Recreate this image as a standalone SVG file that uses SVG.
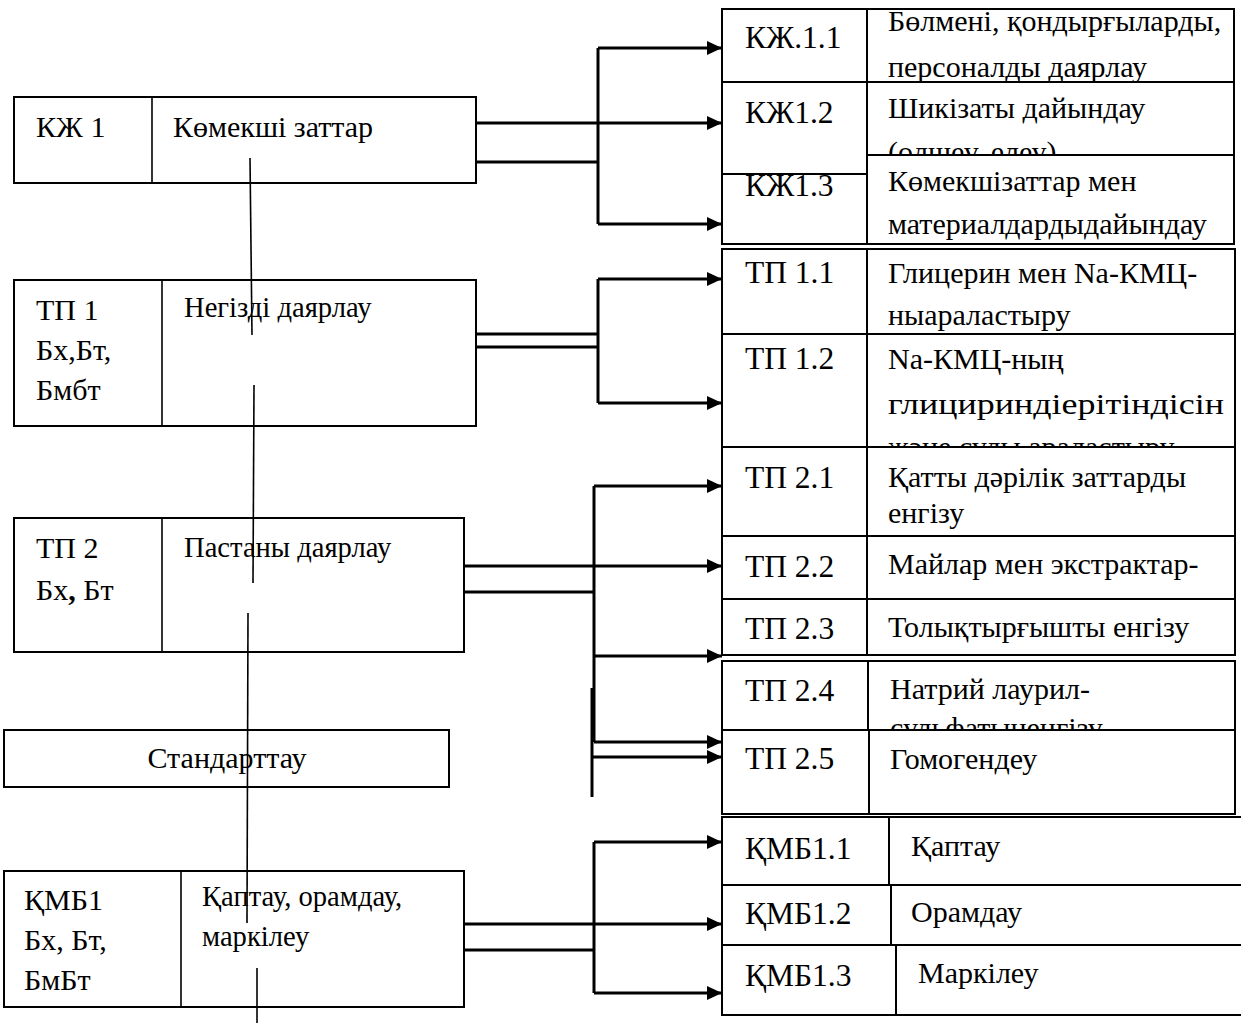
<svg xmlns="http://www.w3.org/2000/svg" width="1241" height="1023" viewBox="0 0 1241 1023">
<style>
  text { font-family: "Liberation Serif", "Times New Roman", serif; fill: #000; }
  .box { fill: #fff; stroke: #000; stroke-width: 2; }
  .l { font-size: 30px; }
  .m { font-size: 28.6px; }
  .code { font-size: 31.5px; }
  .d { font-size: 30px; }
  .c { stroke: #000; stroke-width: 3; fill: none; }
  .thin { stroke: #000; stroke-width: 1.6; fill: none; }
</style>
<defs>
  <marker id="arr" markerUnits="userSpaceOnUse" markerWidth="16" markerHeight="14" refX="15" refY="7" orient="auto">
    <path d="M0,0 L15,7 L0,14 z" fill="#000"/>
  </marker>
  <clipPath id="clipKzh12"><rect x="867" y="82" width="367" height="73"/></clipPath>
  <clipPath id="clipTp12"><rect x="867" y="334" width="368" height="113"/></clipPath>
  <clipPath id="clipTp24"><rect x="868" y="661" width="367" height="69"/></clipPath>
</defs>
<rect width="1241" height="1023" fill="#fff"/>

<!-- Left column nodes -->
<g id="kzh1">
  <rect class="box" x="14" y="97" width="462" height="86"/>
  <line class="thin" x1="152" y1="97" x2="152" y2="183"/>
  <text class="l" x="36" y="137">КЖ 1</text>
  <text class="l" x="173" y="137" font-size="31.5">Көмекші заттар</text>
</g>
<g id="tp1">
  <rect class="box" x="14" y="280" width="462" height="146"/>
  <line class="thin" x1="162" y1="280" x2="162" y2="426"/>
  <text class="l" x="36" y="320">ТП 1</text>
  <text class="l" x="36" y="360">Бх,Бт,</text>
  <text class="l" x="36" y="400">Бмбт</text>
  <text class="m" x="184" y="317">Негізді даярлау</text>
</g>
<g id="tp2">
  <rect class="box" x="14" y="518" width="450" height="134"/>
  <line class="thin" x1="162" y1="518" x2="162" y2="652"/>
  <text class="l" x="36" y="558">ТП 2</text>
  <text class="l" x="36" y="600">Бх<tspan font-weight="bold">,</tspan> Бт</text>
  <text class="m" x="184" y="557">Пастаны даярлау</text>
</g>
<g id="standart">
  <rect class="box" x="4" y="730" width="445" height="57"/>
  <text class="l" x="227" y="768" text-anchor="middle">Стандарттау</text>
</g>
<g id="kmb1">
  <rect class="box" x="4" y="871" width="460" height="136"/>
  <line class="thin" x1="181" y1="871" x2="181" y2="1007"/>
  <text class="l" x="24" y="910">ҚМБ1</text>
  <text class="l" x="24" y="950">Бх, Бт,</text>
  <text class="l" x="24" y="990">БмБт</text>
  <text class="m" x="202" y="906" font-size="29.5">Қаптау, орамдау,</text>
  <text class="m" x="202" y="946" font-size="29.5">маркілеу</text>
</g>

<!-- Right column nodes -->
<g id="kzh1-1">
  <rect class="box" x="722" y="9" width="145" height="73"/>
  <rect class="box" x="867" y="9" width="367" height="73"/>
  <text class="code" x="745" y="48">КЖ.1.1</text>
  <text class="d" x="888" y="31" font-size="29">Бөлмені, қондырғыларды,</text>
  <text class="d" x="888" y="77" font-size="29">персоналды даярлау</text>
</g>
<g id="kzh1-3-code">
  <rect class="box" x="722" y="155" width="145" height="89"/>
  <text class="code" x="745" y="196">КЖ1.3</text>
</g>
<g id="kzh1-2">
  <rect class="box" x="867" y="82" width="367" height="73"/>
  <text class="d" x="888" y="118">Шикізаты дайындау</text>
  <text class="d" x="888" y="162" clip-path="url(#clipKzh12)">(өлшеу, елеу)</text>
  <rect class="box" x="722" y="82" width="145" height="92"/>
  <text class="code" x="745" y="123">КЖ1.2</text>
</g>
<g id="kzh1-3">
  <rect class="box" x="867" y="155" width="367" height="89"/>
  <text class="d" x="888" y="191">Көмекшізаттар мен</text>
  <text class="d" x="888" y="234">материалдардыдайындау</text>
</g>

<g id="tp1-1">
  <rect class="box" x="722" y="249" width="145" height="85"/>
  <rect class="box" x="867" y="249" width="368" height="85"/>
  <text class="code" x="745" y="283">ТП 1.1</text>
  <text class="d" x="888" y="283">Глицерин мен Na-КМЦ-</text>
  <text class="d" x="888" y="325">ныараластыру</text>
</g>
<g id="tp1-2">
  <rect class="box" x="722" y="334" width="145" height="113"/>
  <rect class="box" x="867" y="334" width="368" height="113"/>
  <text class="code" x="745" y="369">ТП 1.2</text>
  <text class="d" x="888" y="369" font-size="32">Na-КМЦ-ның</text>
  <text class="d" x="888" y="414" font-size="32" textLength="336" lengthAdjust="spacingAndGlyphs">глицириндіерітіндісін</text>
  <text class="d" x="888" y="457" font-size="32" clip-path="url(#clipTp12)">және сулы араластыру</text>
</g>
<g id="tp2-1">
  <rect class="box" x="722" y="447" width="145" height="89"/>
  <rect class="box" x="867" y="447" width="368" height="89"/>
  <text class="code" x="745" y="488">ТП 2.1</text>
  <text class="d" x="888" y="487">Қатты дәрілік заттарды</text>
  <text class="d" x="888" y="523">енгізу</text>
</g>
<g id="tp2-2">
  <rect class="box" x="722" y="536" width="145" height="63"/>
  <rect class="box" x="867" y="536" width="368" height="63"/>
  <text class="code" x="745" y="577">ТП 2.2</text>
  <text class="d" x="888" y="574">Майлар мен экстрактар-</text>
</g>
<g id="tp2-3">
  <rect class="box" x="722" y="599" width="145" height="56"/>
  <rect class="box" x="867" y="599" width="368" height="56"/>
  <text class="code" x="745" y="639">ТП 2.3</text>
  <text class="d" x="888" y="637">Толықтырғышты енгізу</text>
</g>
<g id="tp2-4">
  <rect class="box" x="722" y="661" width="146" height="69"/>
  <rect class="box" x="868" y="661" width="367" height="69"/>
  <text class="code" x="745" y="701">ТП 2.4</text>
  <text class="d" x="890" y="699">Натрий лаурил-</text>
  <text class="d" x="890" y="738" clip-path="url(#clipTp24)">сульфатыненгізу</text>
</g>
<g id="tp2-5">
  <rect class="box" x="722" y="730" width="147" height="84"/>
  <rect class="box" x="869" y="730" width="366" height="84"/>
  <text class="code" x="745" y="769">ТП 2.5</text>
  <text class="d" x="890" y="769" font-size="32.5">Гомогендеу</text>
</g>
<g id="kmb1-1">
  <rect class="box" x="722" y="817" width="167" height="68"/>
  <rect class="box" x="889" y="817" width="400" height="68"/>
  <text class="code" x="745" y="859">ҚМБ1.1</text>
  <text class="d" x="911" y="856">Қаптау</text>
</g>
<g id="kmb1-2">
  <rect class="box" x="722" y="885" width="169" height="60"/>
  <rect class="box" x="891" y="885" width="400" height="60"/>
  <text class="code" x="745" y="924">ҚМБ1.2</text>
  <text class="d" x="911" y="922">Орамдау</text>
</g>
<g id="kmb1-3">
  <rect class="box" x="722" y="945" width="174" height="70"/>
  <rect class="box" x="896" y="945" width="400" height="70"/>
  <text class="code" x="745" y="986">ҚМБ1.3</text>
  <text class="d" x="918" y="983">Маркілеу</text>
</g>

<!-- Connectors -->
<g id="connectors">
  <line class="c" x1="476" y1="123" x2="722" y2="123" marker-end="url(#arr)"/>
  <line class="c" x1="476" y1="162" x2="598" y2="162"/>
  <line class="c" x1="598" y1="48" x2="598" y2="224"/>
  <line class="c" x1="598" y1="48" x2="722" y2="48" marker-end="url(#arr)"/>
  <line class="c" x1="598" y1="224" x2="722" y2="224" marker-end="url(#arr)"/>
  <line class="c" x1="476" y1="334" x2="598" y2="334"/>
  <line class="c" x1="476" y1="347" x2="598" y2="347"/>
  <line class="c" x1="598" y1="279" x2="598" y2="403"/>
  <line class="c" x1="598" y1="279" x2="722" y2="279" marker-end="url(#arr)"/>
  <line class="c" x1="598" y1="403" x2="722" y2="403" marker-end="url(#arr)"/>
  <line class="c" x1="464" y1="566" x2="722" y2="566" marker-end="url(#arr)"/>
  <line class="c" x1="464" y1="592" x2="594" y2="592"/>
  <line class="c" x1="594" y1="486" x2="594" y2="742"/>
  <line class="c" x1="594" y1="486" x2="722" y2="486" marker-end="url(#arr)"/>
  <line class="c" x1="594" y1="656" x2="722" y2="656" marker-end="url(#arr)"/>
  <line class="c" x1="594" y1="742" x2="722" y2="742" marker-end="url(#arr)"/>
  <line class="c" x1="592" y1="688" x2="592" y2="797" stroke-width="2"/>
  <line class="c" x1="592" y1="757" x2="722" y2="757" marker-end="url(#arr)"/>
  <line class="c" x1="464" y1="924" x2="722" y2="924" marker-end="url(#arr)"/>
  <line class="c" x1="464" y1="950" x2="594" y2="950"/>
  <line class="c" x1="594" y1="842" x2="594" y2="993"/>
  <line class="c" x1="594" y1="842" x2="722" y2="842" marker-end="url(#arr)"/>
  <line class="c" x1="594" y1="993" x2="722" y2="993" marker-end="url(#arr)"/>
  <line class="thin" x1="250" y1="158" x2="252" y2="335"/>
  <line class="thin" x1="254" y1="385" x2="253" y2="583"/>
  <line class="thin" x1="248" y1="613" x2="247" y2="923"/>
  <line class="thin" x1="257" y1="968" x2="257" y2="1023"/>
</g>
</svg>
